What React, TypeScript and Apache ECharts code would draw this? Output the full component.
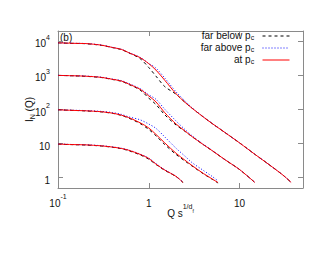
import React, { useEffect, useRef } from 'react';
import * as echarts from 'echarts';

const FONT = '"Liberation Sans", Arial, Helvetica, sans-serif';
const TXT = '#111';
const FRAME = '#8a8a8a';

// ---- data ----
const NAMES = ['far below p_c', 'far above p_c', 'at p_c'];

const Q1 = [0.1, 0.15, 0.2, 0.3, 0.4, 0.5, 0.6, 0.8, 1, 1.2, 1.5, 2, 2.5, 3, 4, 5, 7, 10, 15, 20, 30, 37];
const BELOW1 = [9000, 8650, 8500, 7600, 6500, 5700, 4600, 3120, 1700, 950, 470, 280, 163, 109, 60, 38.7, 20.6, 10.5, 4.7, 2.7, 1.2, 0.73];
const ABOVE1 = [9000, 8700, 8600, 7750, 6600, 5800, 4680, 3380, 2250, 1630, 835, 328, 180, 112, 61, 39, 20.8, 10.5, 4.7, 2.7, 1.2, 0.73];
const AT1 = [9000, 8700, 8580, 7700, 6560, 5780, 4640, 3330, 2200, 1430, 720, 287, 163, 109, 60, 38.7, 20.6, 10.5, 4.7, 2.7, 1.2, 0.73];

const Q2 = [0.1, 0.15, 0.2, 0.3, 0.4, 0.5, 0.6, 0.8, 1, 1.2, 1.5, 2, 2.5, 3, 4, 5, 7, 10, 14.8];
const BELOW2 = [1000, 970, 940, 865, 755, 670, 545, 375, 215, 140, 70, 35, 23, 16, 9.3, 6.2, 3.3, 1.74, 0.72];
const ABOVE2 = [1000, 975, 955, 885, 780, 700, 580, 410, 270, 199, 102, 46, 26, 17, 9.5, 6.3, 3.3, 1.74, 0.72];
const AT2 = [1000, 973, 948, 875, 766, 684, 560, 393, 250, 167, 80.7, 37.5, 23.5, 16, 9.3, 6.2, 3.3, 1.74, 0.72];

const Q3 = [0.1, 0.15, 0.2, 0.3, 0.4, 0.5, 0.6, 0.8, 1, 1.2, 1.5, 2, 2.5, 3, 4, 5, 5.8];
const BELOW3 = [98, 94, 91, 85, 77, 67, 56, 39, 26, 17, 9.4, 4.8, 3.1, 2.2, 1.3, 0.9, 0.7];
const ABOVE3 = [98, 95, 93, 88, 81, 72, 61, 50, 37.5, 28, 15.7, 7.3, 4.3, 2.77, 1.63, 1.09, 0.8];
const AT3 = [98, 94, 91.6, 86, 78, 68, 58, 41, 28.7, 18.6, 10.5, 5.2, 3.28, 2.27, 1.33, 0.92, 0.72];

const Q4 = [0.1, 0.15, 0.2, 0.3, 0.4, 0.5, 0.6, 0.8, 1, 1.2, 1.5, 2, 2.39];
const BELOW4 = [9.6, 9.3, 9.1, 8.5, 7.8, 7.1, 6.2, 4.7, 3.5, 2.45, 1.65, 1.08, 0.72];
const ABOVE4 = [9.7, 9.4, 9.25, 8.7, 8.0, 7.3, 6.5, 4.95, 3.75, 2.6, 1.72, 1.1, 0.73];
const AT4 = [9.7, 9.35, 9.2, 8.6, 7.9, 7.2, 6.4, 4.86, 3.67, 2.51, 1.68, 1.09, 0.72];

const X_MIN = 0.1;
const X_MAX = 50;
const Y_MIN = 0.5;
const Y_MAX = 20000;

const GROUPS: [number[], number[], number[], number[]][] = [
  [Q1, BELOW1, ABOVE1, AT1],
  [Q2, BELOW2, ABOVE2, AT2],
  [Q3, BELOW3, ABOVE3, AT3],
  [Q4, BELOW4, ABOVE4, AT4],
];

const STYLES = [
  { color: '#000000', type: [3, 3] as any },
  { color: '#0000ff', type: [1, 2] as any },
  { color: '#ff0000', type: 'solid' as any },
];

function pow10Label(v: number): string {
  const e = Math.round(Math.log10(v));
  if (Math.abs(Math.log10(v) - e) > 1e-6) return '';
  if (e === 0) return '{b|1}';
  if (e === 1) return '{b|10}';
  return '{b|10}{sup|' + e + '}';
}

const labelRich = {
  b: { fontSize: 10, fontFamily: FONT, color: TXT, lineHeight: 15, verticalAlign: 'bottom' },
  sup: { fontSize: 7, fontFamily: FONT, color: TXT, lineHeight: 8, verticalAlign: 'top' },
};

export default function App() {
  const ref = useRef<HTMLDivElement>(null);
  useEffect(() => {
    const chart = echarts.init(ref.current!, null, { renderer: 'svg', width: 330, height: 255 });
    const series: any[] = [];
    for (let k = 0; k < 3; k++) {
      GROUPS.forEach((g) => {
        const q = g[0];
        const ys = g[k + 1];
        series.push({
          name: NAMES[k],
          type: 'line',
          xAxisIndex: 0,
          yAxisIndex: 0,
          symbol: 'none',
          smooth: 0.3,
          data: q.map((x, i) => [x, ys[i]]),
          lineStyle: { color: STYLES[k].color, width: 1, type: STYLES[k].type },
          itemStyle: { color: STYLES[k].color },
          emphasis: { disabled: true },
          z: 2 + k,
        });
      });
    }
    const axisLineStyle = { color: FRAME, width: 1 };
    const option: any = {
      animation: false,
      backgroundColor: '#ffffff',
      textStyle: { fontFamily: FONT },
      grid: { left: 58, top: 31, right: 27, bottom: 67, containLabel: false },
      legend: {
        orient: 'vertical',
        right: 40,
        top: 30,
        padding: 0,
        itemGap: 0,
        itemWidth: 27,
        itemHeight: 11,
        align: 'right',
        selectedMode: false,
        data: NAMES,
        itemStyle: { opacity: 0, borderWidth: 0 },
        lineStyle: { width: 1 },
        formatter: (n: string) => '{t|' + n.replace('_c', '') + '}{s|c} ',
        textStyle: {
          fontFamily: FONT,
          rich: {
            t: { fontSize: 10, fontFamily: FONT, color: TXT, lineHeight: 9, verticalAlign: 'top' },
            s: { fontSize: 7, fontFamily: FONT, color: TXT, lineHeight: 7, padding: [4, 0, 0, 0], verticalAlign: 'top' },
          },
        },
      },
      xAxis: [
        {
          type: 'log',
          logBase: 10,
          min: X_MIN,
          max: X_MAX,
          position: 'bottom',
          axisLine: { show: true, lineStyle: axisLineStyle },
          axisTick: { show: true, inside: true, length: 5, lineStyle: axisLineStyle },
          splitLine: { show: false },
          minorTick: { show: false },
          axisLabel: {
            margin: 5,
            showMaxLabel: false,
            formatter: (v: number) => {
              if (Math.abs(v - 0.1) < 1e-9) return '{b|10}{sup|-1}';
              return pow10Label(v);
            },
            rich: labelRich,
          },
          name: '{m|Q s}{p|1/d}{f|f}',
          nameLocation: 'middle',
          nameMoveOverlap: false,
          nameGap: 15,
          nameTextStyle: {
            rich: {
              m: { fontSize: 10, fontFamily: FONT, color: TXT, lineHeight: 15, verticalAlign: 'bottom' },
              p: { fontSize: 7, fontFamily: FONT, color: TXT, lineHeight: 8, verticalAlign: 'top' },
              f: { fontSize: 5, fontFamily: FONT, color: TXT, lineHeight: 6, padding: [5, 0, 0, 0], verticalAlign: 'top' },
            },
          },
        },
        {
          type: 'log',
          logBase: 10,
          min: X_MIN,
          max: X_MAX,
          position: 'top',
          axisLine: { show: true, lineStyle: axisLineStyle },
          axisTick: { show: true, inside: true, length: 5, lineStyle: axisLineStyle },
          splitLine: { show: false },
          axisLabel: { show: false },
        },
      ],
      yAxis: [
        {
          type: 'log',
          logBase: 10,
          min: Y_MIN,
          max: Y_MAX,
          position: 'left',
          axisLine: { show: true, lineStyle: axisLineStyle },
          axisTick: { show: true, inside: true, length: 5, lineStyle: axisLineStyle },
          splitLine: { show: false },
          axisLabel: {
            margin: 8,
            showMinLabel: false,
            showMaxLabel: false,
            formatter: (v: number) => pow10Label(v),
            rich: labelRich,
          },
          name: '{i|I}{n|N}{i| (Q)}',
          nameLocation: 'middle',
          nameMoveOverlap: false,
          nameGap: 24,
          nameTextStyle: {
            rich: {
              i: { fontSize: 10, fontFamily: FONT, color: TXT, lineHeight: 10, verticalAlign: 'top' },
              n: { fontSize: 7, fontFamily: FONT, color: TXT, lineHeight: 7, padding: [5, 0, 0, 0], verticalAlign: 'top' },
            },
          },
        },
        {
          type: 'log',
          logBase: 10,
          min: Y_MIN,
          max: Y_MAX,
          position: 'right',
          axisLine: { show: true, lineStyle: axisLineStyle },
          axisTick: { show: true, inside: true, length: 5, lineStyle: axisLineStyle },
          splitLine: { show: false },
          axisLabel: { show: false },
        },
      ],
      graphic: [
        {
          type: 'text',
          left: 60,
          top: 32,
          style: { text: '(b)', fontSize: 10, fontFamily: FONT, fill: TXT },
        },
      ],
      series,
    };
    chart.setOption(option);
    return () => chart.dispose();
  }, []);
  return (
    <div
      ref={ref}
      style={{ position: 'fixed', left: 0, top: 0, width: 330, height: 255, background: '#fff' }}
    />
  );
}
